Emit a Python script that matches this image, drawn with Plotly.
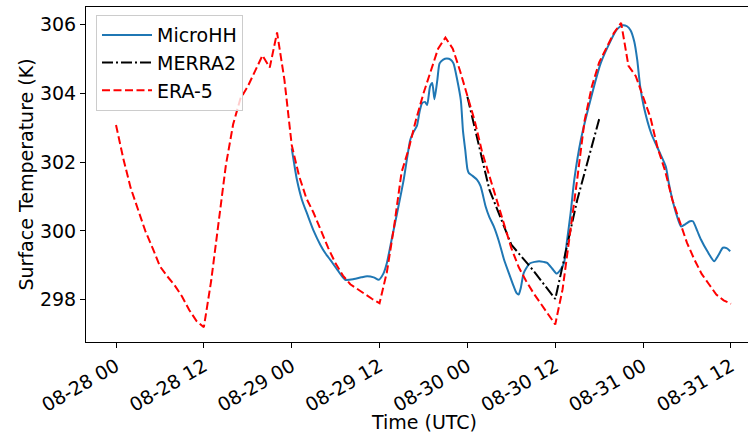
import pandas as pd
import plotly.graph_objects as go

# Start of the simulation window; all series are given as hours after this time
t0 = pd.Timestamp("2019-08-28 00:00")

# ERA-5 hourly surface temperature (K)
era5_hours = list(range(0, 85))
era5_temp = [
    303.08, 302.10, 301.25, 300.60, 300.00, 299.50, 298.97, 298.68, 298.42, 298.10,
    297.70, 297.38, 297.20, 298.55, 300.30, 301.90, 303.10, 303.85, 304.20, 304.65,
    305.10, 304.75, 305.77, 304.40, 302.50, 301.60, 300.95, 300.52, 300.00, 299.50,
    299.05, 298.70, 298.45, 298.30, 298.17, 298.02, 297.90, 298.80, 300.15, 301.70,
    302.40, 303.25, 304.00, 304.65, 305.30, 305.62, 305.30, 304.65, 303.90, 303.20,
    302.30, 301.60, 300.90, 300.20, 299.50, 298.95, 298.55, 298.20, 297.90, 297.60,
    297.28, 298.30, 299.85, 301.50, 303.20, 304.20, 304.90, 305.35, 305.75, 306.05,
    304.80, 304.50, 303.90, 303.30, 302.40, 301.75, 300.90, 300.25, 299.65, 299.17,
    298.75, 298.45, 298.15, 297.98, 297.88,
]

# MERRA2 three-hourly surface temperature (K)
merra2_hours = [48, 51, 54, 57, 60, 63, 66]
merra2_temp = [303.90, 301.20, 299.60, 298.85, 298.02, 300.90, 303.25]

# MicroHH simulated surface temperature (K)
microhh_hours = [
    24.0, 24.3, 24.7, 25.4, 26.1, 27.0, 27.9, 28.6, 29.3, 30.3,
    31.3, 32.5, 33.5, 34.3, 35.2, 35.9, 36.5, 37.0, 37.7, 38.4,
    39.3, 40.2, 40.7, 41.1, 41.5, 41.8, 42.2, 42.5, 42.9, 43.2,
    43.5, 43.9, 44.2, 44.7, 45.2, 45.7, 46.1, 46.6, 47.1, 47.4,
    47.7, 48.0, 48.2, 48.7, 49.3, 49.8, 50.5, 51.0, 51.6, 52.3,
    53.0, 53.7, 54.3, 54.7, 55.0, 55.3, 55.7, 56.5, 57.2, 57.8,
    58.4, 58.9, 59.6, 60.2, 60.8, 61.2, 61.6, 62.1, 62.6, 63.5,
    64.8, 66.2, 67.6, 68.4, 69.2, 69.8, 70.3, 70.8, 71.2, 71.6,
    72.1, 73.1, 74.2, 75.1, 75.5, 76.0, 76.6, 77.2, 77.8, 78.4,
    78.8, 79.4, 79.9, 80.8, 81.7, 82.3, 82.9, 83.4, 83.9,
]
microhh_temp = [
    302.40, 302.00, 301.50, 300.90, 300.50, 300.00, 299.60, 299.35, 299.15, 298.85,
    298.58, 298.60, 298.65, 298.68, 298.65, 298.58, 298.75, 299.07, 299.80, 300.52,
    301.49, 302.65, 302.90, 303.05, 303.50, 303.71, 303.75, 303.66, 304.20, 304.30,
    303.83, 304.40, 304.87, 304.98, 305.01, 304.98, 304.87, 304.40, 303.80, 302.90,
    302.36, 301.80, 301.68, 301.60, 301.49, 301.30, 300.70, 300.40, 300.13, 299.70,
    299.17, 298.75, 298.40, 298.20, 298.15, 298.35, 298.78, 299.05, 299.10, 299.12,
    299.10, 299.07, 298.90, 298.76, 298.90, 299.07, 299.70, 300.52, 301.49, 302.65,
    303.80, 304.87, 305.54, 305.85, 305.98, 305.95, 305.83, 305.50, 304.97, 304.20,
    303.61, 302.84, 302.31, 301.87, 301.40, 300.91, 300.45, 300.13, 300.20, 300.28,
    300.28, 300.00, 299.75, 299.40, 299.12, 299.30, 299.51, 299.50, 299.41,
]

y_ticks = [298, 300, 302, 304, 306]


def to_time(hours):
    return [t0 + pd.Timedelta(hours=h) for h in hours]


fig = go.Figure()
fig.add_trace(go.Scatter(
    x=to_time(microhh_hours), y=microhh_temp, mode="lines", name="MicroHH",
    line=dict(color="#1f77b4", width=2, shape="spline", smoothing=0.6),
))
fig.add_trace(go.Scatter(
    x=to_time(merra2_hours), y=merra2_temp, mode="lines", name="MERRA2",
    line=dict(color="black", width=2, dash="11px,3px,2px,3px"),
))
fig.add_trace(go.Scatter(
    x=to_time(era5_hours), y=era5_temp, mode="lines", name="ERA-5",
    line=dict(color="red", width=2, dash="8px,3.5px"),
))

font = dict(family="DejaVu Sans", size=19, color="black")

fig.update_layout(
    width=748, height=435,
    margin=dict(l=86, r=0, t=7, b=93),
    paper_bgcolor="white", plot_bgcolor="white",
    font=font,
    showlegend=True,
    legend=dict(
        x=0.0151, y=0.976, xanchor="left", yanchor="top",
        bgcolor="rgba(255,255,255,0.8)", bordercolor="#cccccc", borderwidth=1,
        font=font, tracegroupgap=0, itemwidth=50,
    ),
    annotations=[
        dict(text="Time (UTC)", xref="paper", yref="paper", x=0.51, y=0,
             yshift=-80, xanchor="center", yanchor="middle", showarrow=False, font=font),
        dict(text="Surface Temperature (K)", xref="paper", yref="paper", x=-0.0921, y=0.5,
             xanchor="center", yanchor="middle", textangle=-90, showarrow=False, font=font),
    ],
)

fig.update_xaxes(
    range=[t0 + pd.Timedelta(hours=-4.10), t0 + pd.Timedelta(hours=86.33)],
    type="date", tick0=t0, dtick=12 * 3600 * 1000, tickformat="%m-%d %H",
    tickangle=-30, ticks="outside", ticklen=5, tickcolor="black", tickwidth=1,
    showline=True, linecolor="black", linewidth=1, mirror=True,
    showgrid=False, zeroline=False, tickfont=font,
)
fig.update_yaxes(
    range=[296.77, 306.51], tickvals=y_ticks, ticktext=[str(v) for v in y_ticks],
    ticks="outside", ticklen=5, tickcolor="black", tickwidth=1,
    showline=True, linecolor="black", linewidth=1, mirror=False,
    showgrid=False, zeroline=False, tickfont=font,
)

fig.write_html("out.html")
